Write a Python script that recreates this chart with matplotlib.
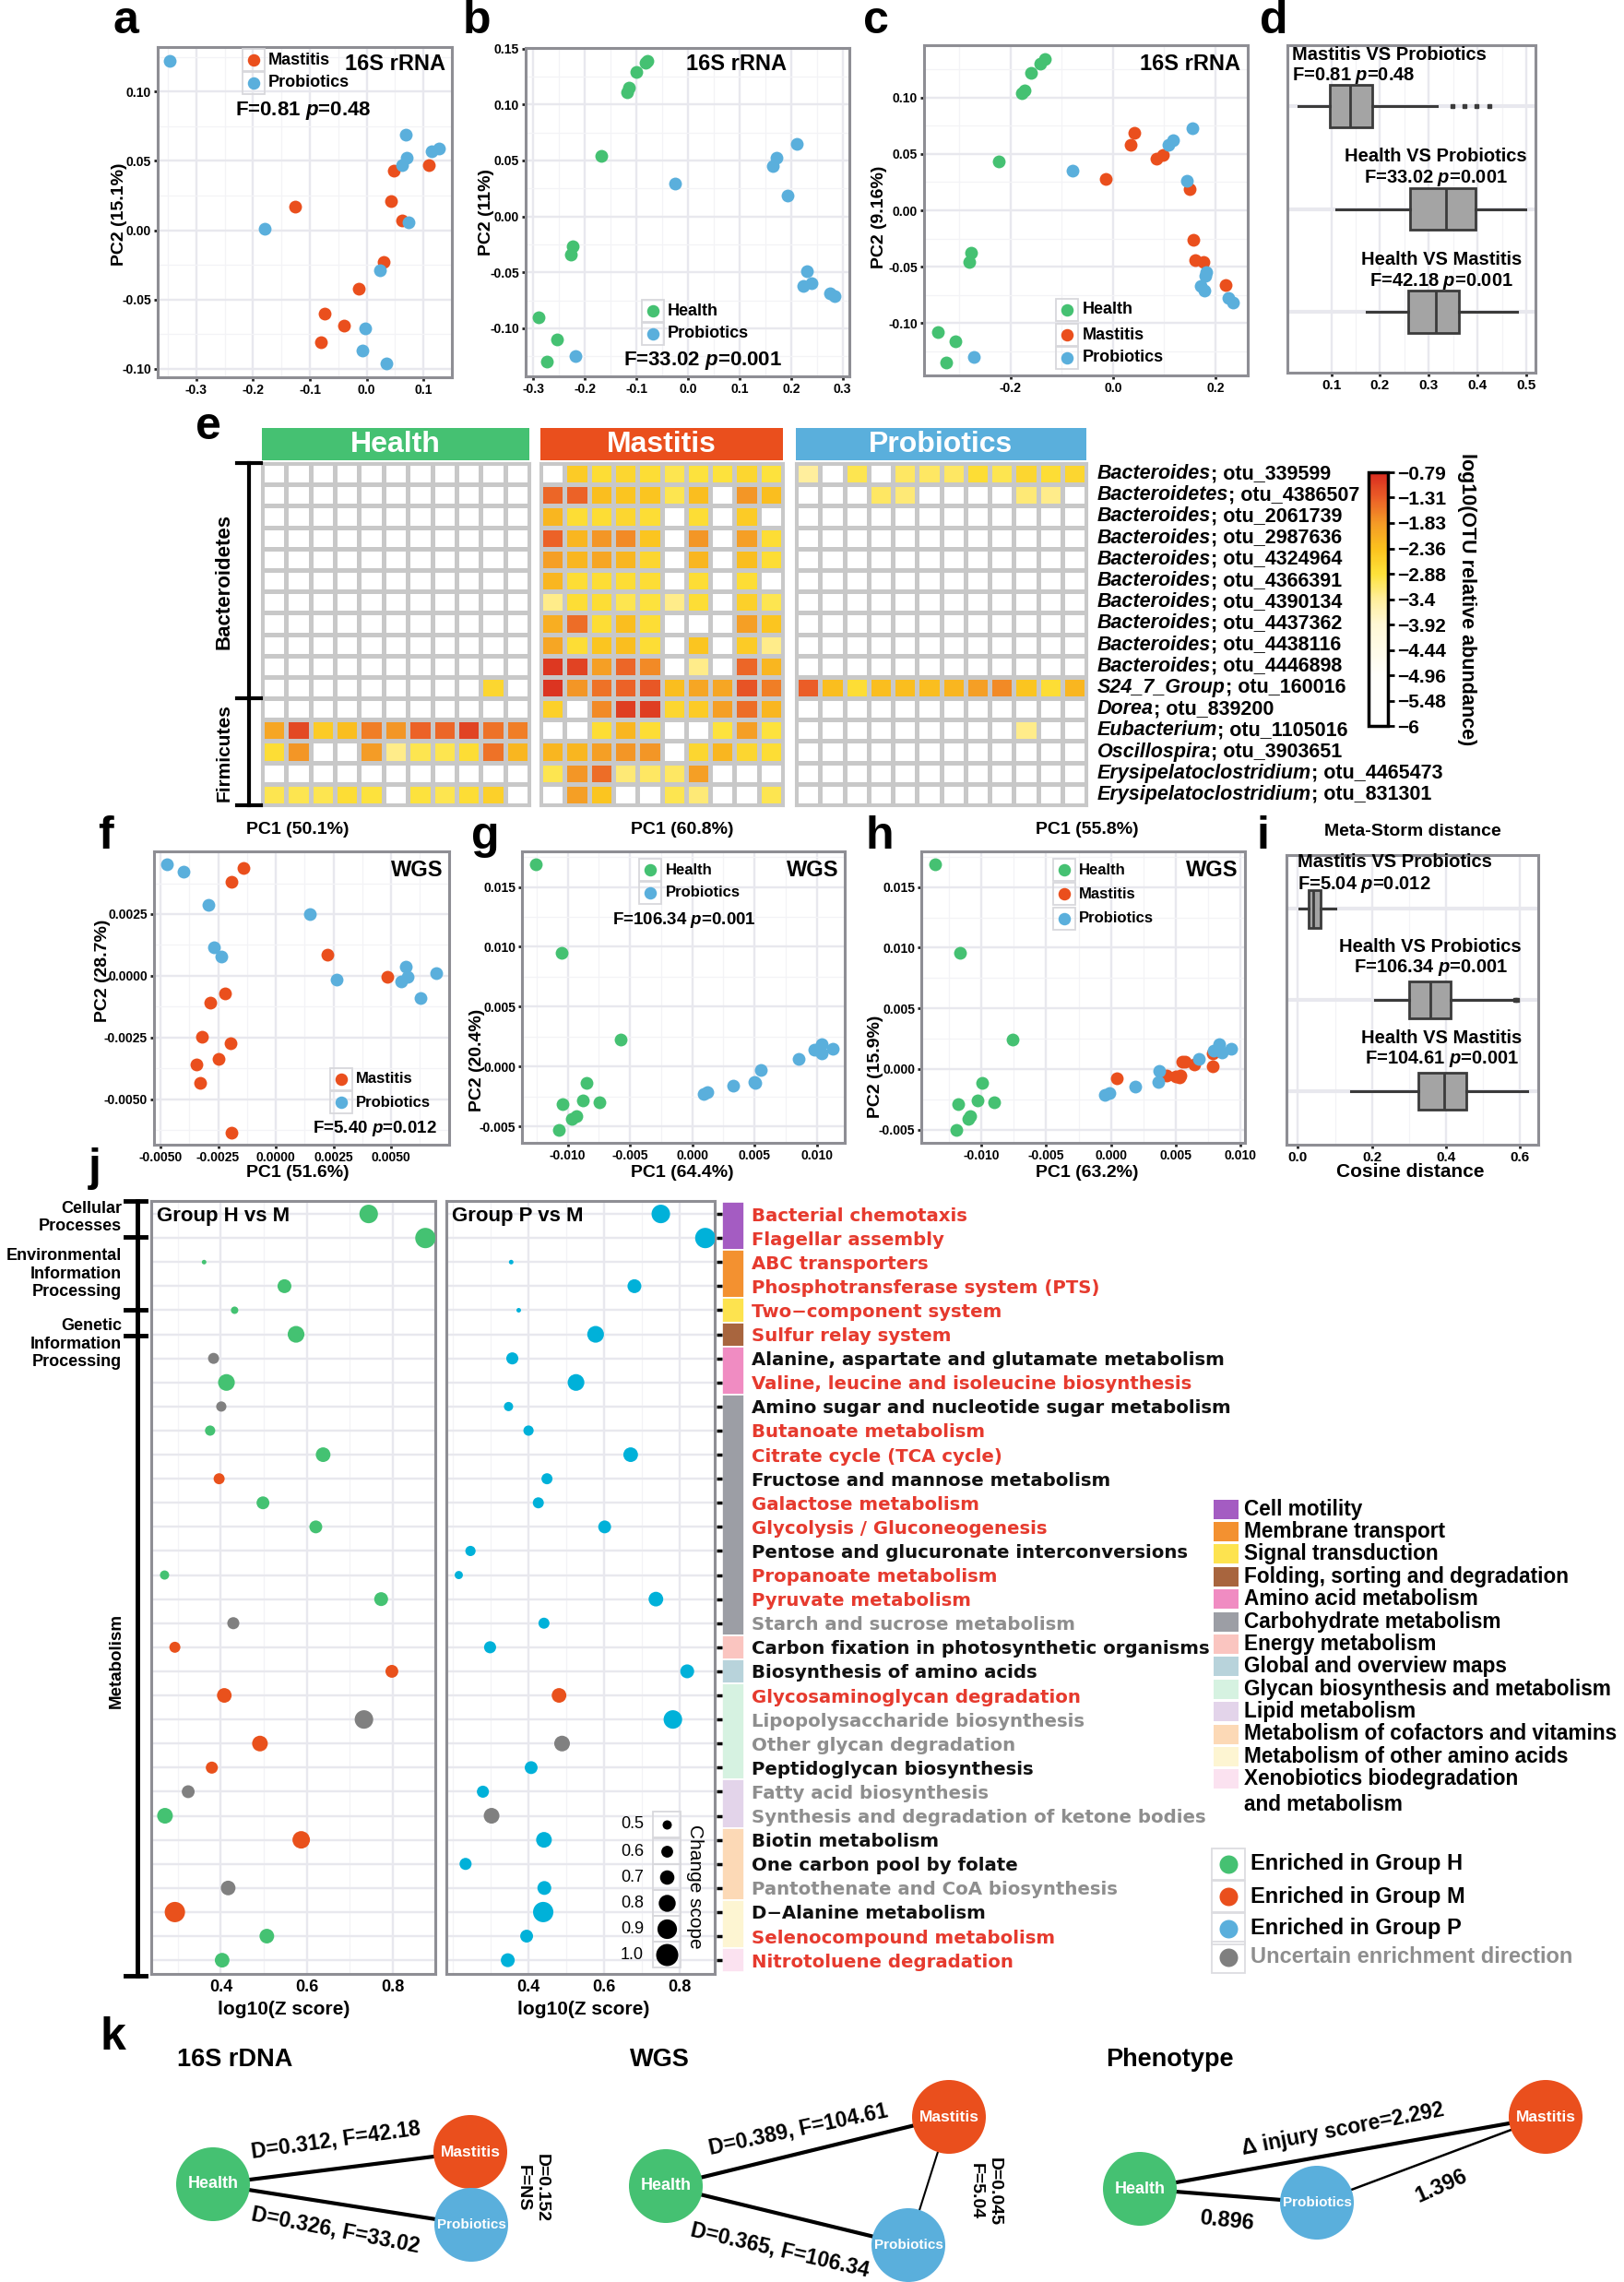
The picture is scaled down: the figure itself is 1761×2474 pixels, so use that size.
import numpy as np
import matplotlib
matplotlib.use('Agg')
import matplotlib.pyplot as plt
from matplotlib import font_manager
from matplotlib.colors import LinearSegmentedColormap, Normalize
from matplotlib.cm import ScalarMappable
from matplotlib.patches import Rectangle, Circle
from matplotlib.ticker import FormatStrFormatter
from matplotlib.transforms import blended_transform_factory

W, H, DPI = 1761, 2474, 100

installed = {f.name for f in font_manager.fontManager.ttflist}
NARROW = 'Liberation Sans Narrow' if 'Liberation Sans Narrow' in installed else 'Liberation Sans'
ARIAL = 'Liberation Sans'
WIDE = 'DejaVu Sans'

plt.rcParams['font.family'] = ARIAL
plt.rcParams['font.weight'] = 'bold'
plt.rcParams['mathtext.fontset'] = 'custom'
plt.rcParams['mathtext.it'] = NARROW + ':italic:bold'
plt.rcParams['mathtext.rm'] = NARROW + ':bold'

GREEN, ORANGE, BLUE, GREY = '#45c172', '#ea4f1d', '#5aafdc', '#7f7f7f'

# ---------------- data: 16S PCoA (a-c) ----------------
a_mastitis_x = [0.110, 0.048, 0.043, 0.062, -0.126, 0.030, -0.014, -0.074, -0.040, -0.080]
a_mastitis_y = [0.047, 0.043, 0.021, 0.007, 0.017, -0.023, -0.042, -0.060, -0.069, -0.081]
a_probiotics_x = [-0.347, 0.068, 0.128, 0.115, 0.070, 0.062, 0.073, -0.179, 0.024, -0.002, -0.007, 0.034]
a_probiotics_y = [0.122, 0.069, 0.059, 0.057, 0.052, 0.047, 0.006, 0.001, -0.029, -0.071, -0.087, -0.096]

b_health_x = [-0.078, -0.083, -0.101, -0.114, -0.119, -0.169, -0.224, -0.227, -0.290, -0.255, -0.273]
b_health_y = [0.139, 0.137, 0.129, 0.115, 0.111, 0.054, -0.027, -0.034, -0.090, -0.110, -0.130]
b_probiotics_x = [-0.025, -0.218, 0.211, 0.171, 0.165, 0.194, 0.230, 0.223, 0.240, 0.276, 0.285]
b_probiotics_y = [0.029, -0.125, 0.065, 0.052, 0.045, 0.019, -0.049, -0.062, -0.060, -0.069, -0.071]

c_health_x = [-0.134, -0.142, -0.160, -0.172, -0.178, -0.224, -0.277, -0.280, -0.342, -0.307, -0.326]
c_health_y = [0.134, 0.130, 0.122, 0.106, 0.104, 0.043, -0.038, -0.046, -0.108, -0.116, -0.135]
c_mastitis_x = [0.042, 0.035, 0.084, 0.097, -0.015, 0.150, 0.156, 0.161, 0.177, 0.220]
c_mastitis_y = [0.069, 0.058, 0.046, 0.049, 0.028, 0.019, -0.026, -0.044, -0.046, -0.066]
c_probiotics_x = [0.155, 0.117, 0.109, -0.080, 0.144, -0.272, 0.182, 0.180, 0.171, 0.178, 0.226, 0.235]
c_probiotics_y = [0.073, 0.062, 0.058, 0.035, 0.026, -0.130, -0.055, -0.058, -0.067, -0.071, -0.078, -0.082]

# ---------------- data: distance boxplots (d, i) ----------------
pair_names = ['Mastitis VS Probiotics', 'Health VS Probiotics', 'Health VS Mastitis']
d_F = ['0.81', '33.02', '42.18']
d_p = ['0.48', '0.001', '0.001']
d_whislo = [0.033, 0.110, 0.173]
d_q1 = [0.097, 0.261, 0.258]
d_med = [0.139, 0.336, 0.314]
d_q3 = [0.185, 0.396, 0.362]
d_whishi = [0.316, 0.498, 0.481]
d_fliers = [[0.348, 0.373, 0.397, 0.424], [], []]

i_F = ['5.04', '106.34', '104.61']
i_p = ['0.012', '0.001', '0.001']
i_whislo = [0.003, 0.208, 0.143]
i_q1 = [0.028, 0.301, 0.324]
i_med = [0.042, 0.357, 0.394]
i_q3 = [0.060, 0.413, 0.455]
i_whishi = [0.101, 0.580, 0.618]
i_fliers = [[], [0.586, 0.592], []]

# ---------------- data: WGS PCoA (f-h) ----------------
f_mastitis_x = [-0.00139, -0.00193, 0.00222, 0.00485, -0.00222, -0.00285, -0.00319, -0.00198, -0.00249, -0.00346, -0.00328, -0.00191]
f_mastitis_y = [0.00437, 0.00380, 0.00086, -0.00005, -0.00072, -0.00111, -0.00249, -0.00272, -0.00338, -0.00358, -0.00435, -0.00635]
f_probiotics_x = [-0.00474, -0.00402, -0.00292, 0.00146, -0.00270, -0.00236, 0.00265, 0.00564, 0.00571, 0.00542, 0.00627, 0.00697]
f_probiotics_y = [0.00451, 0.00422, 0.00286, 0.00249, 0.00115, 0.00077, -0.00017, 0.00035, -0.00006, -0.00025, -0.00092, 0.00010]

g_health_x = [-0.01254, -0.01050, -0.00575, -0.00850, -0.01042, -0.00875, -0.00746, -0.00933, -0.00967, -0.01071]
g_health_y = [0.01690, 0.00949, 0.00223, -0.00136, -0.00315, -0.00287, -0.00300, -0.00413, -0.00438, -0.00533]
g_probiotics_x = [0.00092, 0.00125, 0.00329, 0.00496, 0.00504, 0.00554, 0.00854, 0.00983, 0.01000, 0.01040, 0.01040, 0.01130]
g_probiotics_y = [-0.00231, -0.00213, -0.00162, -0.00126, -0.00136, -0.00028, 0.00067, 0.00138, 0.00138, 0.00190, 0.00113, 0.00151]

h_health_x = [-0.01363, -0.01166, -0.00758, -0.00994, -0.01178, -0.01034, -0.00906, -0.01086, -0.01106, -0.01198]
h_health_y = [0.01686, 0.00957, 0.00243, -0.00114, -0.00289, -0.00261, -0.00273, -0.00387, -0.00413, -0.00506]
h_mastitis_x = [0.00048, 0.00553, 0.00577, 0.00649, 0.00790, 0.00790, 0.00429, 0.00501, 0.00529, 0.00537]
h_mastitis_y = [-0.00078, 0.00056, 0.00063, 0.00038, 0.00129, 0.00018, -0.00053, -0.00063, -0.00071, -0.00053]
h_probiotics_x = [-0.00044, -0.00012, 0.00188, 0.00369, 0.00377, 0.00681, 0.00794, 0.00838, 0.00862, 0.00930]
h_probiotics_y = [-0.00215, -0.00197, -0.00147, -0.00109, -0.00013, 0.00081, 0.00152, 0.00208, 0.00139, 0.00170]

# ---------------- data: heatmap (e) ----------------
E = -6.0  # not detected
otu_genus = ['Bacteroides', 'Bacteroidetes', 'Bacteroides', 'Bacteroides', 'Bacteroides', 'Bacteroides',
             'Bacteroides', 'Bacteroides', 'Bacteroides', 'Bacteroides', 'S24_7_Group', 'Dorea',
             'Eubacterium', 'Oscillospira', 'Erysipelatoclostridium', 'Erysipelatoclostridium']
otu_ids = ['otu_339599', 'otu_4386507', 'otu_2061739', 'otu_2987636', 'otu_4324964', 'otu_4366391',
           'otu_4390134', 'otu_4437362', 'otu_4438116', 'otu_4446898', 'otu_160016', 'otu_839200',
           'otu_1105016', 'otu_3903651', 'otu_4465473', 'otu_831301']
heat_health = [
    [E] * 11, [E] * 11, [E] * 11, [E] * 11, [E] * 11,
    [E] * 11, [E] * 11, [E] * 11, [E] * 11, [E] * 11,
    [E, E, E, E, E, E, E, E, E, -2.7, E],
    [E] * 11,
    [-2.0, -1.1, -2.5, -2.3, -1.6, -1.8, -1.35, -1.4, -1.05, -1.5, -1.6],
    [-2.8, -1.8, E, E, -1.85, -3.3, -3.0, -3.0, -2.8, -1.5, -2.2],
    [E] * 11,
    [-3.0, -3.0, -3.0, -2.8, -2.9, E, -2.9, -3.0, -2.8, -2.6, E],
]
heat_mastitis = [
    [E, -2.5, -2.8, -2.7, -2.8, -3.0, -2.9, -2.9, -2.7, -2.9],
    [-1.4, -1.35, -2.3, -2.4, -2.4, -3.0, -2.3, E, -1.8, -2.3],
    [-2.2, -2.8, -2.8, -2.7, -2.8, E, -2.8, E, -2.5, E],
    [-1.35, -2.2, -1.8, -1.7, -2.4, E, -1.8, E, -1.9, -2.8],
    [-1.9, -2.2, -2.0, -2.2, -2.7, E, -2.2, E, -2.3, -2.8],
    [-2.2, -2.8, -2.8, -2.8, -2.8, E, -2.8, E, -2.8, E],
    [-3.3, -2.8, -2.8, -3.0, -2.9, -3.3, -2.8, E, -2.6, -3.0],
    [-2.1, -1.45, -2.8, -2.3, -2.8, E, E, E, -1.9, -2.4],
    [-2.0, -2.8, -2.4, -2.3, -2.8, E, -2.4, E, -2.5, -3.3],
    [-0.95, -1.05, -1.9, -1.4, -1.7, E, -3.3, E, -1.4, -2.2],
    [-0.9, -1.8, -1.5, -1.35, -1.25, -2.3, -2.0, -2.0, -1.2, -1.6],
    [-2.6, E, -1.7, -1.0, -1.0, -2.7, -2.5, -1.9, -1.45, -2.2],
    [E, E, -2.8, -2.2, -2.8, E, E, -2.9, -1.9, -2.9],
    [-2.2, -2.2, -1.9, -1.8, -1.8, E, -2.7, -2.2, -2.7, -2.8],
    [-3.0, -1.8, -1.45, -3.2, -3.1, -3.1, -1.9, E, E, E],
    [E, -1.9, -2.4, E, E, -3.0, -3.2, E, E, -3.0],
]
heat_probiotics = [
    [-3.4, E, -3.0, E, -3.1, -3.1, -3.1, -2.8, -3.0, -2.7, -2.8, -2.7],
    [E, E, E, -3.1, -3.2, E, E, E, E, -3.2, -3.3, E],
    [E] * 12, [E] * 12, [E] * 12, [E] * 12, [E] * 12, [E] * 12, [E] * 12, [E] * 12,
    [-1.3, -2.3, -2.8, -2.3, -2.3, -2.3, -2.2, -1.9, -1.7, -2.4, -2.8, -2.2],
    [E] * 12,
    [E, E, E, E, E, E, E, E, E, -3.3, E, E],
    [E] * 12, [E] * 12, [E] * 12,
]
cbar_ticks = [-0.79, -1.31, -1.83, -2.36, -2.88, -3.4, -3.92, -4.44, -4.96, -5.48, -6]

# ---------------- data: KEGG pathways (j) ----------------
pathways = ['Bacterial chemotaxis', 'Flagellar assembly', 'ABC transporters',
            'Phosphotransferase system (PTS)', 'Two\u2212component system', 'Sulfur relay system',
            'Alanine, aspartate and glutamate metabolism', 'Valine, leucine and isoleucine biosynthesis',
            'Amino sugar and nucleotide sugar metabolism', 'Butanoate metabolism',
            'Citrate cycle (TCA cycle)', 'Fructose and mannose metabolism', 'Galactose metabolism',
            'Glycolysis / Gluconeogenesis', 'Pentose and glucuronate interconversions',
            'Propanoate metabolism', 'Pyruvate metabolism', 'Starch and sucrose metabolism',
            'Carbon fixation in photosynthetic organisms', 'Biosynthesis of amino acids',
            'Glycosaminoglycan degradation', 'Lipopolysaccharide biosynthesis',
            'Other glycan degradation', 'Peptidoglycan biosynthesis', 'Fatty acid biosynthesis',
            'Synthesis and degradation of ketone bodies', 'Biotin metabolism',
            'One carbon pool by folate', 'Pantothenate and CoA biosynthesis', 'D\u2212Alanine metabolism',
            'Selenocompound metabolism', 'Nitrotoluene degradation']
pathway_status = ['M', 'M', 'M', 'M', 'M', 'M', 'B', 'M', 'B', 'M', 'M', 'B', 'M', 'M', 'B', 'M',
                  'M', 'U', 'B', 'B', 'M', 'U', 'U', 'B', 'U', 'U', 'B', 'B', 'U', 'B', 'M', 'M']
categories = ['Cell motility', 'Membrane transport', 'Signal transduction',
              'Folding, sorting and degradation', 'Amino acid metabolism', 'Carbohydrate metabolism',
              'Energy metabolism', 'Global and overview maps', 'Glycan biosynthesis and metabolism',
              'Lipid metabolism', 'Metabolism of cofactors and vitamins',
              'Metabolism of other amino acids', 'Xenobiotics biodegradation\nand metabolism']
category_counts = [2, 2, 1, 1, 2, 10, 1, 1, 4, 2, 3, 2, 1]
nan = np.nan
hm_z = [0.744, 0.876, 0.361, 0.548, 0.432, 0.575, 0.383, 0.413, 0.401, 0.375, 0.638, 0.396, 0.498, 0.621,
        nan, 0.269, 0.773, 0.429, 0.293, 0.798, 0.408, 0.733, 0.491, 0.379, 0.324, 0.270, 0.587, nan,
        0.417, 0.293, 0.507, 0.403]
hm_scope = [0.86, 0.93, 0.32, 0.68, 0.43, 0.79, 0.57, 0.79, 0.54, 0.54, 0.71, 0.57, 0.64, 0.64, nan,
            0.50, 0.68, 0.61, 0.57, 0.64, 0.71, 0.86, 0.75, 0.61, 0.64, 0.75, 0.82, nan, 0.71, 0.93,
            0.71, 0.71]
hm_dir = ['H', 'H', 'H', 'H', 'H', 'H', 'U', 'H', 'U', 'H', 'H', 'M', 'H', 'H', 'H', 'H', 'H', 'U',
          'M', 'M', 'M', 'U', 'M', 'M', 'U', 'H', 'M', 'H', 'U', 'M', 'H', 'H']
pm_z = [0.751, 0.869, 0.354, 0.681, 0.374, 0.578, 0.357, 0.526, 0.347, 0.400, 0.671, 0.449, 0.426, 0.602,
        0.246, 0.215, 0.738, 0.441, 0.298, 0.821, 0.481, 0.783, 0.489, 0.407, 0.279, 0.302, 0.441, 0.233,
        0.442, 0.439, 0.395, 0.345]
pm_scope = [0.86, 0.93, 0.32, 0.68, 0.32, 0.79, 0.61, 0.79, 0.50, 0.54, 0.71, 0.57, 0.57, 0.64, 0.54,
            0.46, 0.71, 0.57, 0.61, 0.68, 0.71, 0.86, 0.75, 0.64, 0.61, 0.75, 0.75, 0.61, 0.68, 0.93,
            0.64, 0.68]
pm_dir = ['P'] * 20 + ['M', 'P', 'U', 'P', 'P', 'U', 'P', 'P', 'P', 'P', 'P', 'P']
scope_legend = [0.5, 0.6, 0.7, 0.8, 0.9, 1.0]

# ---------------- data: networks (k) ----------------
net16_D = [0.312, 0.326, 0.152]
net16_F = ['42.18', '33.02', 'NS']
netwgs_D = [0.389, 0.365, 0.045]
netwgs_F = ['104.61', '106.34', '5.04']
pheno_score = [2.292, 0.896, 1.396]

# ======================================================================
fig = plt.figure(figsize=(W / DPI, H / DPI), dpi=DPI)
ax0 = fig.add_axes([0, 0, 1, 1], zorder=10)
ax0.set_xlim(0, W)
ax0.set_ylim(H, 0)
ax0.axis('off')


def px(l, t, r, b, **kw):
    return fig.add_axes([l / W, 1 - b / H, (r - l) / W, (b - t) / H], **kw)


def txt(x, y, s, size, fam=NARROW, **kw):
    kw.setdefault('fontweight', 'bold')
    return ax0.text(x, y, s, fontsize=size, family=fam, **kw)


def gg(ax, xlim, ylim, xt, yt, xminor=(), yminor=(), xfmt=None, yfmt=None, size=10):
    ax.set_xlim(*xlim)
    ax.set_ylim(*ylim)
    ax.set_xticks(xt)
    ax.set_yticks(yt)
    ax.set_xticks(xminor, minor=True)
    ax.set_yticks(yminor, minor=True)
    if xfmt:
        ax.xaxis.set_major_formatter(FormatStrFormatter(xfmt))
    if yfmt:
        ax.yaxis.set_major_formatter(FormatStrFormatter(yfmt))
    ax.grid(True, which='major', color='#e8e8ee', lw=1.7)
    ax.grid(True, which='minor', color='#f3f3f6', lw=0.9)
    ax.set_axisbelow(True)
    for sp in ax.spines.values():
        sp.set_color('#8e8e94')
        sp.set_linewidth(2.2)
    ax.tick_params(which='major', length=3, width=2, color='#222222', labelsize=size, pad=2,
                   labelfontfamily=NARROW)
    ax.tick_params(which='minor', length=0)


def pts(ax, x, y, color, s=100):
    ax.scatter(x, y, s=s, color=color, lw=0, zorder=3)


def key_legend(x, ys, labels, colors, tx, size, d=13.5):
    for y, lab, col in zip(ys, labels, colors):
        ax0.add_patch(Rectangle((x - 12, y - 12), 24, 24, fill=False, ec='#d8d8dc', lw=1.3))
        ax0.scatter([x], [y], s=(d * 0.72) ** 2, color=col, lw=0)
        txt(tx, y, lab, size, va='center', ha='left')


def fp(F, p):
    return 'F=%s $\\mathit{p}$=%s' % (F, p)


# ---------------- panel letters ----------------
for lab, x, y in [('a', 122, 36), ('b', 502, 36), ('c', 936, 36), ('d', 1366, 36), ('e', 212, 476),
                  ('f', 106, 920), ('g', 511, 920), ('h', 939, 920), ('i', 1362, 920),
                  ('j', 96, 1280), ('k', 108, 2222)]:
    txt(x, y, lab, 36, va='baseline', ha='left')

# ---------------- a ----------------
ax = px(171, 51, 490, 409)
gg(ax, (-0.368, 0.15), (-0.106, 0.132), [-0.3, -0.2, -0.1, 0.0, 0.1], [-0.10, -0.05, 0.0, 0.05, 0.10],
   [-0.35, -0.25, -0.15, -0.05, 0.05, 0.15], [-0.075, -0.025, 0.025, 0.075, 0.125], '%.1f', '%.2f')
pts(ax, a_mastitis_x, a_mastitis_y, ORANGE)
pts(ax, a_probiotics_x, a_probiotics_y, BLUE)
key_legend(275, [65, 90], ['Mastitis', 'Probiotics'], [ORANGE, BLUE], 291, 13)
txt(429, 69, '16S rRNA', 17, ha='center', va='center')
txt(329, 120, fp('0.81', '0.48'), 16, ha='center', va='center')
txt(129, 232, 'PC2 (15.1%)', 14, fam=ARIAL, rotation=90, ha='center', va='center')

# ---------------- b ----------------
ax = px(570, 52, 921, 408)
gg(ax, (-0.315, 0.313), (-0.143, 0.1505), [-0.3, -0.2, -0.1, 0.0, 0.1, 0.2, 0.3],
   [-0.10, -0.05, 0.0, 0.05, 0.10, 0.15], [-0.25, -0.15, -0.05, 0.05, 0.15, 0.25],
   [-0.125, -0.075, -0.025, 0.025, 0.075, 0.125], '%.1f', '%.2f')
pts(ax, b_health_x, b_health_y, GREEN)
pts(ax, b_probiotics_x, b_probiotics_y, BLUE)
key_legend(708, [337, 362], ['Health', 'Probiotics'], [GREEN, BLUE], 724, 13)
txt(798, 69, '16S rRNA', 17, ha='center', va='center')
txt(762, 391, fp('33.02', '0.001'), 16, ha='center', va='center')
txt(527, 230, 'PC2 (11%)', 14, fam=ARIAL, rotation=90, ha='center', va='center')

# ---------------- c ----------------
ax = px(1002, 49, 1353, 407)
gg(ax, (-0.369, 0.263), (-0.1465, 0.1465), [-0.2, 0.0, 0.2], [-0.10, -0.05, 0.0, 0.05, 0.10],
   [-0.3, -0.1, 0.1], [-0.125, -0.075, -0.025, 0.025, 0.075, 0.125], '%.1f', '%.2f')
pts(ax, c_health_x, c_health_y, GREEN)
pts(ax, c_mastitis_x, c_mastitis_y, ORANGE)
pts(ax, c_probiotics_x, c_probiotics_y, BLUE)
key_legend(1157, [336, 363, 388], ['Health', 'Mastitis', 'Probiotics'], [GREEN, ORANGE, BLUE], 1174, 13)
txt(1290, 69, '16S rRNA', 17, ha='center', va='center')
txt(954, 235, 'PC2 (9.16%)', 14, fam=ARIAL, rotation=90, ha='center', va='center')


# ---------------- d / i boxplots ----------------
def box_panel(ax, lo, q1, med, q3, hi, fl, F, p, xlim, xt, xminor, xlabels, lab_pos):
    stats = [dict(whislo=lo[k], q1=q1[k], med=med[k], q3=q3[k], whishi=hi[k], fliers=fl[k])
             for k in range(3)]
    c = '#3b3b3b'
    ax.bxp(stats, positions=[0, 1, 2], widths=0.41, orientation='horizontal', patch_artist=True,
           showcaps=False, manage_ticks=False,
           boxprops=dict(facecolor='#a4a4a4', edgecolor=c, lw=2),
           medianprops=dict(color=c, lw=2), whiskerprops=dict(color=c, lw=2.2),
           flierprops=dict(marker='s', ms=2.5, mfc=c, mec=c))
    gg(ax, xlim, (2.59, -0.59), xt, [0, 1, 2], xminor, [], size=11)
    ax.set_xticklabels(xlabels)
    ax.tick_params(axis='y', length=0, labelleft=False)
    ax.grid(True, which='major', axis='y', color='#e8e8ee', lw=3)
    for k, (x, y1, y2, ha) in enumerate(lab_pos):
        ax.text(x, y1, pair_names[k], ha=ha, va='center', fontsize=14.5, family=NARROW)
        ax.text(x, y2, fp(F[k], p[k]), ha=ha, va='center', fontsize=14.5, family=NARROW)


ax = px(1396, 49, 1665, 404)
box_panel(ax, d_whislo, d_q1, d_med, d_q3, d_whishi, d_fliers, d_F, d_p, (0.010, 0.519),
          [0.1, 0.2, 0.3, 0.4, 0.5], [0.15, 0.25, 0.35, 0.45], ['0.1', '0.2', '0.3', '0.4', '0.5'],
          [(0.020, -0.50, -0.29, 'left'), (0.315, 0.49, 0.70, 'center'), (0.326, 1.49, 1.70, 'center')])

ax = px(1395, 927, 1668, 1241)
box_panel(ax, i_whislo, i_q1, i_med, i_q3, i_whishi, i_fliers, i_F, i_p, (-0.031, 0.649),
          [0.0, 0.2, 0.4, 0.6], [0.1, 0.3, 0.5], ['0.0', '0.2', '0.4', '0.6'],
          [(0.0, -0.51, -0.27, 'left'), (0.358, 0.42, 0.65, 'center'), (0.389, 1.42, 1.65, 'center')])
txt(1532, 901, 'Meta-Storm distance', 14, ha='center', va='center')
txt(1529, 1271, 'Cosine distance', 15, ha='center', va='center')

# ---------------- e heatmap ----------------
node_vals = [-6, -4.96, -3.92, -3.4, -2.88, -2.36, -1.83, -1.31, -0.79]
node_cols = ['#ffffff', '#fffefa', '#fff7d4', '#ffee9c', '#fde23a', '#fbc21e', '#f49a26', '#eb5e27', '#d82a1f']
cmap = LinearSegmentedColormap.from_list(
    'otu', [((v + 6) / 5.21, c) for v, c in zip(node_vals, node_cols)])
norm = Normalize(-6, -0.79)

groups = [('Health', heat_health, GREEN, (284, 574)),
          ('Mastitis', heat_mastitis, ORANGE, (586, 849)),
          ('Probiotics', heat_probiotics, BLUE, (863, 1178))]
for name, mat, col, (l, r) in groups:
    axh = px(l, 502, r, 873)
    m = np.array(mat)
    axh.pcolormesh(m, cmap=cmap, norm=norm, edgecolors='#c8c8c8', linewidth=2.2)
    axh.set_xlim(0, m.shape[1])
    axh.set_ylim(m.shape[0], 0)
    axh.set_xticks([])
    axh.set_yticks([])
    for sp in axh.spines.values():
        sp.set_color('#c8c8c8')
        sp.set_linewidth(2.2)
    ax0.add_patch(Rectangle((l, 464), r - l, 35, color=col, lw=0))
    txt((l + r) / 2, 482, name, 23, color='white', ha='center', va='center')

# row labels next to the last heat panel
tr = blended_transform_factory(axh.transAxes, axh.transData)
for k, (gname, oid) in enumerate(zip(otu_genus, otu_ids)):
    t1 = axh.text(1.038, k + 0.5, gname, transform=tr, fontsize=15.5, family=ARIAL, style='italic',
                  ha='left', va='center')
    axh.annotate('; ' + oid, xy=(1, 0), xycoords=t1, fontsize=15.5, family=ARIAL, ha='left', va='bottom')

cax = px(1484, 512, 1505, 787)
cb = fig.colorbar(ScalarMappable(norm=norm, cmap=cmap), cax=cax, ticks=cbar_ticks)
cb.ax.set_yticklabels([('%g' % v).replace('-', '\u2212') for v in cbar_ticks])
cb.ax.tick_params(length=5, width=2, labelsize=15, pad=2)
cb.outline.set_linewidth(2.5)
cb.outline.set_edgecolor('black')
txt(1590, 650, 'log10(OTU relative abundance)', 15.5, fam=ARIAL, rotation=-90, ha='center', va='center')

# phylum bracket
ax0.plot([270, 270], [502, 873], color='black', lw=3)
for y in [502, 757, 873]:
    ax0.plot([257, 283], [y, y], color='black', lw=3)
txt(243, 630, 'Bacteroidetes', 16, fam=ARIAL, rotation=90, ha='center', va='center')
txt(243, 816, 'Firmicutes', 15, fam=ARIAL, rotation=90, ha='center', va='center')

# ---------------- f ----------------
ax = px(167, 923, 487, 1241)
gg(ax, (-0.00528, 0.00751), (-0.00685, 0.00504), [-0.005, -0.0025, 0.0, 0.0025, 0.005],
   [-0.005, -0.0025, 0.0, 0.0025], [-0.00375, -0.00125, 0.00125, 0.00375, 0.00625],
   [-0.00625, -0.00375, -0.00125, 0.00125, 0.00375], '%.4f', '%.4f')
pts(ax, f_mastitis_x, f_mastitis_y, ORANGE)
pts(ax, f_probiotics_x, f_probiotics_y, BLUE)
key_legend(370, [1170, 1195], ['Mastitis', 'Probiotics'], [ORANGE, BLUE], 386, 12)
txt(452, 943, 'WGS', 17, ha='center', va='center')
txt(406, 1223, fp('5.40', '0.012'), 13.5, ha='center', va='center')
txt(323, 900, 'PC1 (50.1%)', 14, ha='center', va='center')
txt(323, 1271, 'PC1 (51.6%)', 14, ha='center', va='center')
txt(112, 1052, 'PC2 (28.7%)', 14, fam=ARIAL, rotation=90, ha='center', va='center')

# ---------------- g ----------------
wgs_xt = [-0.010, -0.005, 0.0, 0.005, 0.010]
wgs_yt = [-0.005, 0.0, 0.005, 0.010, 0.015]
wgs_xm = [-0.0125, -0.0075, -0.0025, 0.0025, 0.0075]
wgs_ym = [-0.0025, 0.0025, 0.0075, 0.0125, 0.0175]
ax = px(566, 923, 916, 1239)
gg(ax, (-0.01367, 0.01225), (-0.00638, 0.01797), wgs_xt, wgs_yt, wgs_xm, wgs_ym, '%.3f', '%.3f')
pts(ax, g_health_x, g_health_y, GREEN)
pts(ax, g_probiotics_x, g_probiotics_y, BLUE)
key_legend(705, [943, 968], ['Health', 'Probiotics'], [GREEN, BLUE], 722, 12)
txt(881, 943, 'WGS', 17, ha='center', va='center')
txt(742, 998, fp('106.34', '0.001'), 13.5, ha='center', va='center')
txt(740, 900, 'PC1 (60.8%)', 14, ha='center', va='center')
txt(740, 1271, 'PC1 (64.4%)', 14, ha='center', va='center')
txt(518, 1149, 'PC2 (20.4%)', 14, fam=ARIAL, rotation=90, ha='center', va='center')

# ---------------- h ----------------
ax = px(999, 923, 1350, 1239)
gg(ax, (-0.01467, 0.01038), (-0.0061, 0.01795), wgs_xt, wgs_yt, wgs_xm, wgs_ym, '%.3f', '%.3f')
pts(ax, h_health_x, h_health_y, GREEN)
pts(ax, h_mastitis_x, h_mastitis_y, ORANGE)
pts(ax, h_probiotics_x, h_probiotics_y, BLUE)
key_legend(1154, [943, 969, 996], ['Health', 'Mastitis', 'Probiotics'], [GREEN, ORANGE, BLUE], 1170, 12)
txt(1314, 943, 'WGS', 17, ha='center', va='center')
txt(1179, 900, 'PC1 (55.8%)', 14, ha='center', va='center')
txt(1179, 1271, 'PC1 (63.2%)', 14, ha='center', va='center')
txt(950, 1156, 'PC2 (15.9%)', 14, fam=ARIAL, rotation=90, ha='center', va='center')

# ---------------- j ----------------
JCOL = {'H': '#44c272', 'M': '#e9511c', 'P': '#00b1d9', 'U': '#808080'}
LABCOL = {'M': '#e63a2e', 'B': '#111111', 'U': '#8e8e8e'}
rows = np.arange(len(pathways))
YL = (31.57, -0.54)


def dsize(scope):
    return ((10 + (np.asarray(scope, dtype=float) - 0.5) * 28) * 0.72) ** 2


def dot_panel(ax, z, scope, dirs, xlim, xminor, title):
    gg(ax, xlim, YL, [0.4, 0.6, 0.8], rows, xminor, [], '%.1f', size=13)
    ax.set_yticklabels([])
    ax.tick_params(axis='y', length=0)
    ax.tick_params(axis='x', length=0, pad=4)
    ax.scatter(z, rows, s=dsize(scope), c=[JCOL[d] for d in dirs], lw=0, zorder=3)
    ax.text(0.02, 0.98, title, transform=ax.transAxes, fontsize=16, family=NARROW, va='center', ha='left')


ax_hm = px(164, 1302, 472, 2140)
dot_panel(ax_hm, hm_z, hm_scope, hm_dir, (0.238, 0.899), [0.3, 0.5, 0.7], 'Group H vs M')
ax_pm = px(484, 1302, 775, 2140)
dot_panel(ax_pm, pm_z, pm_scope, pm_dir, (0.182, 0.894), [0.2, 0.3, 0.5, 0.7], 'Group P vs M')
txt(308, 2179, 'log10(Z score)', 15, ha='center', va='center')
txt(633, 2179, 'log10(Z score)', 15, ha='center', va='center')

# category strip + pathway names
cat_colors = ['#a45cc2', '#f39130', '#fde34f', '#a8653e', '#f08cc2', '#9c9ea5', '#fac5c0',
              '#b8d3db', '#d6f2e1', '#e3d4ea', '#fcd9b6', '#fdf5d2', '#fbe2f0']
ax_s = px(783, 1302, 807, 2140)
starts = np.cumsum([0] + category_counts[:-1])
ax_s.barh(starts - 0.5 + np.array(category_counts) / 2, 1, height=category_counts, color=cat_colors,
          edgecolor='white', lw=1.2)
ax_s.set_xlim(0, 1)
ax_s.set_ylim(*YL)
ax_s.set_xticks([])
ax_s.set_yticks(rows, labels=pathways)
ax_s.tick_params(axis='y', left=True, right=False, labelleft=False, labelright=True, length=4,
                 width=2.5, pad=2, labelsize=14.2, labelfontfamily=WIDE)
for lbl, st in zip(ax_s.get_yticklabels(), pathway_status):
    lbl.set_color(LABCOL[st])
for sp in ax_s.spines.values():
    sp.set_visible(False)

# hierarchy bracket on the left
ax0.plot([149, 149], [1302, 2142], color='black', lw=3.5)
for y in [1302, 1341, 1420, 1448, 2142]:
    ax0.plot([136, 158], [y, y], color='black', lw=3.5)
txt(132, 1320, 'Cellular\nProcesses', 13, ha='right', va='center', linespacing=1.2)
txt(132, 1381, 'Environmental\nInformation\nProcessing', 13, ha='right', va='center', linespacing=1.2)
txt(132, 1457, 'Genetic\nInformation\nProcessing', 13, ha='right', va='center', linespacing=1.2)
txt(126, 1800, 'Metabolism', 13.5, fam=ARIAL, rotation=90, ha='center', va='center')

# change scope legend
sc_y = [1978, 2007, 2035, 2063, 2091, 2119]
for y, v in zip(sc_y, scope_legend):
    ax0.add_patch(Rectangle((708, y - 14), 30, 28, fill=False, ec='#d8d8dc', lw=1.3))
    ax0.scatter([723], [y], s=dsize(v), color='black', lw=0)
    txt(698, y, '%.1f' % v, 13, ha='right', va='center', fontweight='normal')
txt(753, 2045, 'Change scope', 15, rotation=-90, ha='center', va='center', fontweight='normal')

# category legend
for k, (name, col) in enumerate(zip(categories, cat_colors)):
    y = 1636 + 24.4 * k
    ax0.add_patch(Rectangle((1316, y - 10.5), 27, 21, color=col, lw=0))
    for n, line in enumerate(name.split('\n')):
        txt(1349, y + 28 * n, line, 16.3, fam=ARIAL, ha='left', va='center')

# enrichment legend
enr_labels = ['Enriched in Group H', 'Enriched in Group M', 'Enriched in Group P',
              'Uncertain enrichment direction']
enr_cols = [GREEN, ORANGE, BLUE, GREY]
for k, (lab, col) in enumerate(zip(enr_labels, enr_cols)):
    y = [2021, 2056, 2091, 2122][k]
    ax0.add_patch(Rectangle((1314, y - 17), 36, 34, fill=False, ec='#dcdce0', lw=1.3))
    ax0.scatter([1332], [y], s=(20 * 0.72) ** 2, color=col, lw=0)
    txt(1356, y, lab, 17, fam=ARIAL, ha='left', va='center', color='#8e8e8e' if k == 3 else 'black')


# ---------------- k networks ----------------
def node(x, y, name, col, size):
    ax0.add_patch(Circle((x, y), 40, color=col, lw=0, zorder=3))
    txt(x, y, name, size, color='white', ha='center', va='center', zorder=4)


def edge(p1, p2, lw):
    ax0.plot([p1[0], p2[0]], [p1[1], p2[1]], color='black', lw=lw, zorder=2)


def elabel(x, y, s, rot, size=16.5, fam=NARROW):
    txt(x, y, s, size, fam=fam, ha='center', va='center', rotation=rot, rotation_mode='anchor')


txt(192, 2233, '16S rDNA', 19.5, ha='left', va='center')
txt(683, 2233, 'WGS', 19.5, ha='left', va='center')
txt(1199, 2233, 'Phenotype', 19.5, ha='left', va='center')

pos16 = {'H': (231, 2368), 'M': (510, 2333), 'P': (511, 2412)}
edge(pos16['H'], pos16['M'], 3)
edge(pos16['H'], pos16['P'], 3)
elabel(364, 2320, 'D=%.3f, F=%s' % (net16_D[0], net16_F[0]), 8)
elabel(364, 2418, 'D=%.3f, F=%s' % (net16_D[1], net16_F[1]), -11)
elabel(577, 2372, 'D=%.3f\nF=%s' % (net16_D[2], net16_F[2]), -90, 14, ARIAL)

poswgs = {'H': (722, 2370), 'M': (1029, 2295), 'P': (985, 2434)}
edge(poswgs['H'], poswgs['M'], 3)
edge(poswgs['H'], poswgs['P'], 3)
edge(poswgs['M'], poswgs['P'], 1.5)
elabel(866, 2309, 'D=%.3f, F=%s' % (netwgs_D[0], netwgs_F[0]), 12)
elabel(846, 2440, 'D=%.3f, F=%s' % (netwgs_D[1], netwgs_F[1]), -13)
elabel(1068, 2376, 'D=%.3f\nF=%s' % (netwgs_D[2], netwgs_F[2]), -90, 14, ARIAL)

posph = {'H': (1236, 2373), 'P': (1428, 2388), 'M': (1676, 2295)}
edge(posph['H'], posph['M'], 3)
edge(posph['H'], posph['P'], 3)
edge(posph['P'], posph['M'], 1.8)
elabel(1456, 2308, '\u0394 injury score=%.3f' % pheno_score[0], 11)
elabel(1330, 2408, '%.3f' % pheno_score[1], -6, 17)
elabel(1563, 2370, '%.3f' % pheno_score[2], 24, 17)

for pos in (pos16, poswgs, posph):
    node(*pos['H'], 'Health', GREEN, 13)
    node(*pos['M'], 'Mastitis', ORANGE, 12.5)
    node(*pos['P'], 'Probiotics', BLUE, 11)

fig.savefig('out.png', dpi=DPI)
